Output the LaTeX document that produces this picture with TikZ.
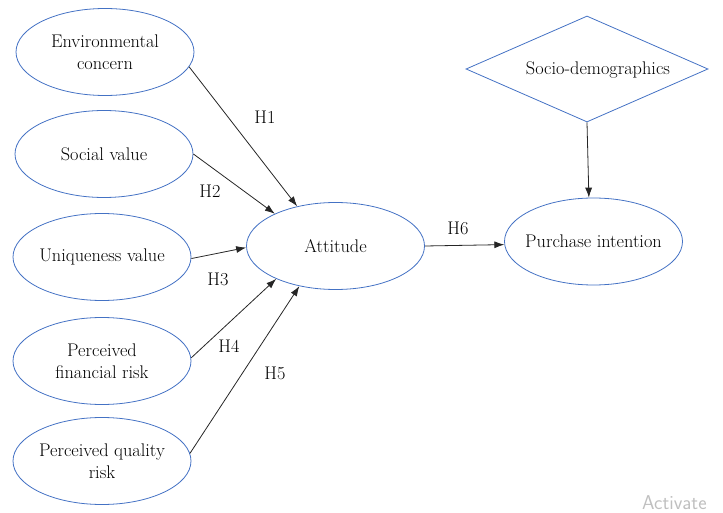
\documentclass[tikz,border=0pt]{standalone}
\usetikzlibrary{shapes.geometric,arrows.meta}
\definecolor{ovalblue}{RGB}{68,114,196}
\begin{document}
\begin{tikzpicture}[x=1pt,y=-1pt,
  oval/.style={ellipse, draw=ovalblue, line width=0.8pt, minimum width=178pt, minimum height=87pt, inner xsep=-14pt, inner ysep=0pt, align=center, font=\fontsize{18.3}{22}\selectfont},
  dmd/.style={diamond, draw=ovalblue, line width=0.8pt, minimum width=242pt, minimum height=106pt, inner sep=0pt},
  link/.style={-{Latex[length=10pt,width=7pt]}, line width=0.8pt, black!85},
  hyp/.style={font=\fontsize{18.3}{22}\selectfont}]
\useasboundingbox (0,0) rectangle (723,513);
\node[oval] (env) at (105,52) {Environmental\\concern};
\node[oval] (soc) at (104,154) {Social value};
\node[oval] (uni) at (102,257) {Uniqueness value};
\node[oval] (fin) at (102,361) {Perceived\\financial risk};
\node[oval] (qual) at (102,461) {Perceived quality\\risk};
\node[oval] (att) at (335.5,246) {Attitude};
\node[oval] (pi) at (593.5,241.5) {Purchase intention};
\node[dmd] (socio) at (587,69) {};
\node[hyp] (sociotext) at (598,70) {Socio-demographics};
\draw[link] (env.-10.7) -- (att.134.6);
\draw[link] (soc.0) -- (att.152.5);
\draw[link] (uni.-1) -- (att.181);
\draw[link] (fin.2) -- (att.209.5);
\draw[link] (qual.5.6) -- (att.228.2);
\draw[link] (att.0) -- (pi.182);
\draw[link] (socio.south) -- (pi.96);
\node[hyp] (h1) at (265,117) {H1};
\node[hyp] (h2) at (210,191) {H2};
\node[hyp] (h3) at (218,279) {H3};
\node[hyp] (h4) at (229,346) {H4};
\node[hyp] (h5) at (275,373) {H5};
\node[hyp] (h6) at (458,228) {H6};
\node[anchor=west, inner sep=0pt, text=black!25, font=\sffamily\fontsize{20}{24}\selectfont] (wm) at (642,503) {Activate};
\end{tikzpicture}
\end{document}
